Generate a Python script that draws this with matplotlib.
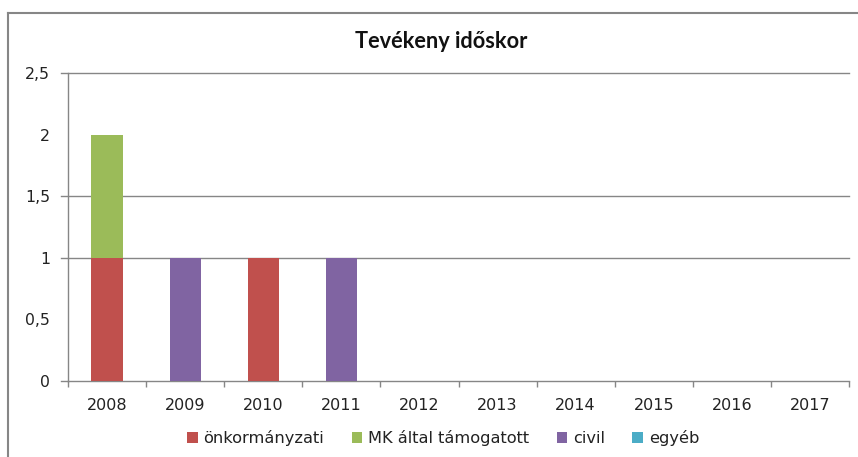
import matplotlib
matplotlib.use("Agg")
import matplotlib.pyplot as plt
from matplotlib.lines import Line2D
from matplotlib.patches import Patch
import numpy as np

years = ["2008", "2009", "2010", "2011", "2012", "2013", "2014", "2015", "2016", "2017"]
series_names = ["önkormányzati", "MK által támogatott", "civil", "egyéb"]
onkormanyzati = [1, 0, 1, 0, 0, 0, 0, 0, 0, 0]
mk_altal = [1, 0, 0, 0, 0, 0, 0, 0, 0, 0]
civil = [0, 1, 0, 1, 0, 0, 0, 0, 0, 0]
egyeb = [0, 0, 0, 0, 0, 0, 0, 0, 0, 0]
colors = ["#C0504D", "#9BBB59", "#8064A2", "#4BACC6"]
yticks = [0, 0.5, 1, 1.5, 2, 2.5]
ytick_labels = ["0", "0,5", "1", "1,5", "2", "2,5"]
grid_levels = [1, 1.5, 2.5]

W, H = 858, 457
fig = plt.figure(figsize=(W / 100, H / 100), dpi=100)
ax = fig.add_axes([68 / W, 1 - 381 / H, 781 / W, 308 / H])

x = np.arange(len(years))
bottom = np.zeros(len(years))
for name, vals, c in zip(series_names, [onkormanyzati, mk_altal, civil, egyeb], colors):
    v = np.array(vals, dtype=float)
    ax.bar(x, v, width=0.4, bottom=bottom, color=c, label=name, zorder=3)
    bottom += v

gray = "#868686"
ax.set_xlim(-0.5, len(years) - 0.5)
ax.set_ylim(0, 2.5)
for s in ["top", "right"]:
    ax.spines[s].set_visible(False)
ax.spines["left"].set_color(gray)
ax.spines["bottom"].set_color(gray)
ax.spines["left"].set_linewidth(1.0)
ax.spines["bottom"].set_linewidth(1.0)

# horizontal gridlines with small ticks to the left
trans = ax.get_yaxis_transform()
for g in grid_levels:
    ax.plot([-0.009, 1], [g, g], transform=trans, color=gray, lw=1.0, clip_on=False, zorder=1)
ax.plot([-0.009, 0], [0, 0], transform=trans, color=gray, lw=1.0, clip_on=False)

ax.set_yticks(yticks)
ax.set_yticklabels(ytick_labels)
ax.tick_params(axis="y", length=0, pad=13, labelsize=11.3, labelcolor="#222222")

ax.set_xticks(x)
ax.set_xticklabels(years)
ax.set_xticks(np.arange(-0.5, len(years)), minor=True)
ax.tick_params(axis="x", which="major", length=0, pad=12.5, labelsize=11.5, labelcolor="#222222")
ax.tick_params(axis="x", which="minor", length=4, width=1.0, color=gray, direction="out")

# title
fig.text(441 / W, 1 - 42 / H, "Tevékeny időskor", ha="center", va="center",
         fontsize=15.7, fontweight="bold", family="Lato", color="#111111")

# legend
handles = [Patch(facecolor=c, edgecolor="none") for c in colors]
fig.legend(handles, series_names, loc="center", bbox_to_anchor=(443 / W, 1 - 438 / H),
           ncol=4, frameon=False, handlelength=0.65, handleheight=0.65,
           handletextpad=0.35, columnspacing=1.7, fontsize=11.7, labelcolor="#222222")

# outer chart border (left and top)
fig.add_artist(Line2D([8 / W, 8 / W], [0, 1 - 13 / H], color=gray, lw=1.5, transform=fig.transFigure))
fig.add_artist(Line2D([8 / W, 1], [1 - 13 / H, 1 - 13 / H], color=gray, lw=1.5, transform=fig.transFigure))

fig.savefig("out.png", dpi=100)
